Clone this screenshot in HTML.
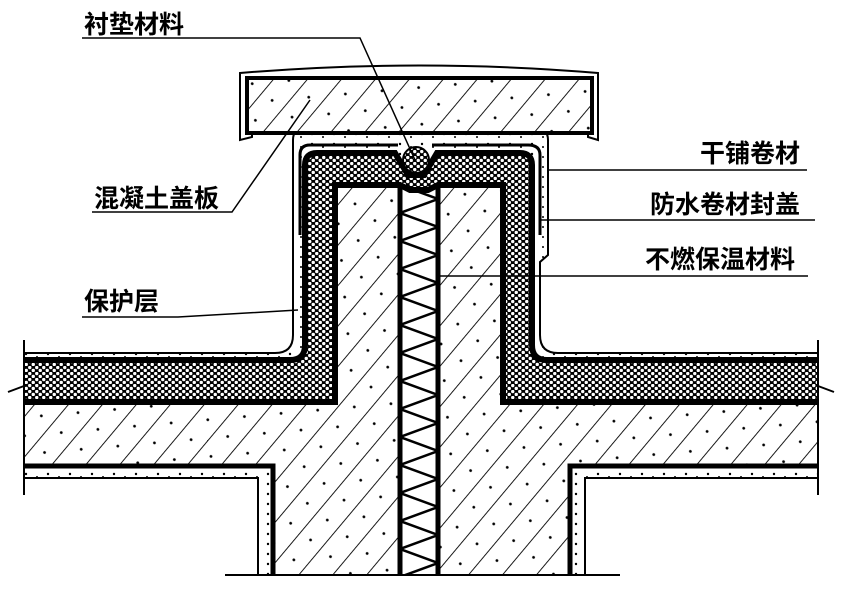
<!DOCTYPE html>
<html><head><meta charset="utf-8"><style>
html,body{margin:0;padding:0;background:#fff;}
svg{display:block;}
text{font-family:"Liberation Sans","Noto Sans CJK SC",sans-serif;font-weight:bold;font-size:25px;fill:#000;}
</style></head><body>
<svg width="842" height="600" viewBox="0 0 842 600" xmlns="http://www.w3.org/2000/svg">
<defs>
<pattern id="hatch" width="26" height="26" patternUnits="userSpaceOnUse" patternTransform="rotate(40)">
<rect width="26" height="26" fill="#fff"/><line x1="0" y1="0" x2="0" y2="26" stroke="#000" stroke-width="1.8"/>
<circle cx="13" cy="6" r="1.4"/>
</pattern>
<pattern id="hex" width="7" height="6" patternUnits="userSpaceOnUse">
<rect width="7" height="6" fill="#000"/>
<circle cx="1.75" cy="1.5" r="1.7" fill="#fff"/><circle cx="5.25" cy="4.5" r="1.7" fill="#fff"/>
</pattern>
<pattern id="dots" width="22" height="10" patternUnits="userSpaceOnUse">
<rect width="22" height="10" fill="#fff"/><circle cx="4" cy="4" r="1.2"/><circle cx="15" cy="7" r="1"/>
</pattern>
<pattern id="zig" width="38" height="28" patternUnits="userSpaceOnUse" x="400" y="185">
<rect width="38" height="28" fill="#fff"/>
<polyline points="0,0 38,14 0,28" fill="none" stroke="#000" stroke-width="2.5"/>
</pattern>
</defs>

<!-- protective layer (dotted) -->
<path d="M24,353 H275 Q293,353 293,335 V140 Q293,128 305,128 H535 Q548,128 548,140 V255 L540,262 V335 Q540,353 558,353 H818 V362 H24 Z" fill="url(#dots)"/>
<path d="M24,353 H275 Q293,353 293,335 V140 Q293,128 305,128 H535 Q548,128 548,140 V255 L540,262 V335 Q540,353 558,353 H818" fill="none" stroke="#000" stroke-width="2"/>
<!-- insulation -->
<path d="M24,360 H290 Q305,360 305,345 V165 Q305,153 317,153 H395 L408,175 H424 L437,153 H520 Q532,153 532,165 V345 Q532,360 547,360 H818 V402 H24 Z" fill="url(#hex)"/>
<path d="M24,360 H290 Q305,360 305,345 V165 Q305,153 317,153 H395 L408,175 H424 L437,153 H520 Q532,153 532,165 V345 Q532,360 547,360 H818" fill="none" stroke="#000" stroke-width="6"/>

<!-- concrete -->
<path d="M24,402 H335 V185 H400 L410,190 H428 L438,185 H503 V402 H818 V466 H570 V575 H273 V466 H24 Z" fill="url(#hatch)"/>
<!-- plaster under slab -->
<path d="M24,468 H270 V575 H258 V478 H24 Z" fill="url(#dots)"/>
<path d="M818,468 H573 V575 H585 V478 H818 Z" fill="url(#dots)"/>
<path d="M24,466 H273 V575 M818,466 H570 V575" fill="none" stroke="#000" stroke-width="5"/>
<path d="M24,478 H258 V575 M818,478 H585 V575" fill="none" stroke="#000" stroke-width="2"/>
<!-- zigzag gap -->
<rect x="400" y="188" width="38" height="387" fill="url(#zig)"/>
<line x1="400" y1="185" x2="400" y2="575" stroke="#000" stroke-width="5"/>
<line x1="438" y1="185" x2="438" y2="575" stroke="#000" stroke-width="5"/>
<path d="M24,402 H335 V185 H400 L410,190 H428 L438,185 H503 V402 H818" fill="none" stroke="#000" stroke-width="6"/>

<!-- waterproof cap -->
<path d="M300,235 V155 Q300,145 310,145 H398 M432,145 H528 Q540,145 540,155 V235" fill="none" stroke="#000" stroke-width="3"/>
<!-- gasket -->
<circle cx="416" cy="160" r="13" fill="url(#hex)" stroke="#000" stroke-width="2"/>

<!-- cover slab -->
<path d="M240,73 Q420,58 598,73 V140 L588,137 V133 H252 V137 L240,140 Z" fill="#fff" stroke="#000" stroke-width="2"/>
<rect x="247" y="78" width="345" height="55" fill="url(#hatch)" stroke="#000" stroke-width="4"/>

<!-- side lines -->
<line x1="24" y1="340" x2="24" y2="495" stroke="#000" stroke-width="2"/>
<line x1="818" y1="340" x2="818" y2="495" stroke="#000" stroke-width="2"/>
<line x1="225" y1="575" x2="620" y2="575" stroke="#000" stroke-width="2"/>
<path d="M8,392 L24,386 M834,392 L818,386" stroke="#000" stroke-width="2"/>

<!-- leaders -->
<path d="M82,38 H360 L415,160" fill="none" stroke="#000" stroke-width="1.5"/>
<path d="M92,212 H232 L310,100" fill="none" stroke="#000" stroke-width="1.5"/>
<path d="M82,317 H178 L298,310" fill="none" stroke="#000" stroke-width="1.5"/>
<line x1="548" y1="170" x2="807" y2="170" stroke="#000" stroke-width="1.5"/>
<line x1="540" y1="220" x2="815" y2="220" stroke="#000" stroke-width="1.5"/>
<line x1="440" y1="276" x2="808" y2="276" stroke="#000" stroke-width="1.5"/>

<!-- labels -->
<text x="84" y="33">衬垫材料</text>
<text x="94" y="207">混凝土盖板</text>
<text x="84" y="310">保护层</text>
<text x="700" y="162">干铺卷材</text>
<text x="650" y="213">防水卷材封盖</text>
<text x="645" y="268">不燃保温材料</text>
</svg>
</body></html>
